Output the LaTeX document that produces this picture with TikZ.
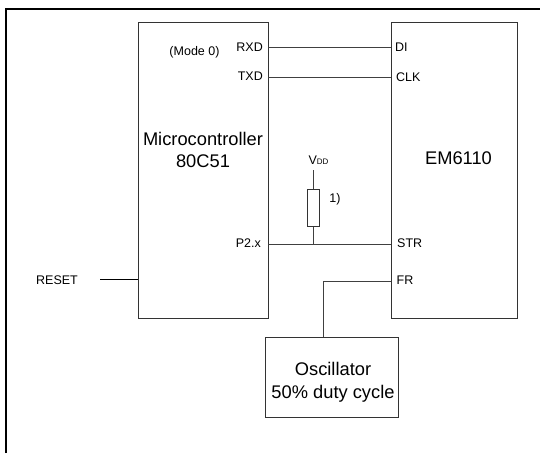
\documentclass[tikz,border=0pt]{standalone}
\usepackage{fontspec}
\setmainfont{Liberation Sans}
\begin{document}
\begin{tikzpicture}[x=1pt,y=-1pt,
  box/.style={draw=black!80,line width=0.8pt,inner sep=0pt,minimum width=#1},
  wire/.style={draw=black!75,line width=0.8pt},
  pin/.style={font=\fontsize{12.5}{14}\selectfont,inner sep=0pt},
  big/.style={font=\fontsize{18.3}{22.5}\selectfont,align=center,inner sep=0pt}]
\useasboundingbox (0,0) rectangle (540,453);
\coordinate (fa) at (6,453);
\coordinate (fb) at (6,9);
\coordinate (fc) at (540,9);
\draw[black,line width=1.5pt] (fa) -- (fb) -- (fc);
% blocks
\node[box=130pt,minimum height=296pt,anchor=north west] (mcu) at (137.5,22) {};
\node[box=126pt,minimum height=296pt,anchor=north west] (em) at (390.5,22) {};
\node[box=133pt,minimum height=80pt,anchor=north west] (osc) at (265,337) {};
\node[box=11.5pt,minimum height=37pt,anchor=north west] (res) at (307.3,189) {};
% big labels
\node[big] (mcutxt) at (203,150) {Microcontroller\\80C51};
\node[big] (emtxt) at (458.5,158.5) {EM6110};
\node[big] (osctxt) at (333,382.5) {Oscillator\\50\% duty cycle};
% pin labels
\node[pin,anchor=east] (rxd) at (263,47.5) {RXD};
\node[pin,anchor=east] (txd) at (263,76.5) {TXD};
\node[pin,anchor=east] (p2) at (261,243.5) {P2.x};
\node[pin] (mode) at (194.5,52) {(Mode 0)};
\node[pin,anchor=west] (di) at (395,47.5) {DI};
\node[pin,anchor=west] (clk) at (396,77.5) {CLK};
\node[pin,anchor=west] (str) at (397,243.5) {STR};
\node[pin,anchor=west] (fr) at (396.5,280.5) {FR};
\node[pin,anchor=west] (reset) at (36,280.5) {RESET};
\node[pin] (vdd) at (318.5,160) {V\fontsize{8}{9}\selectfont DD};
\node[pin] (one) at (335,199) {1)};
% junction helpers
\coordinate (rxdE) at (mcu.east |- 0,47.5);
\coordinate (diW) at (em.west |- 0,47.5);
\coordinate (txdE) at (mcu.east |- 0,77.5);
\coordinate (clkW) at (em.west |- 0,77.5);
\coordinate (p2E) at (mcu.east |- 0,244);
\coordinate (strW) at (em.west |- 0,244);
\coordinate (frW) at (em.west |- 0,281);
\coordinate (vddEnd) at (res.north |- 0,170);
\coordinate (junc) at (res.south |- 0,244);
\coordinate (oscT) at (323.5,337);
\coordinate (rstL) at (100,279.5);
\coordinate (rstR) at (mcu.west |- 0,279.5);
% connectors
\draw[wire] (rxdE) -- (diW);
\draw[wire] (txdE) -- (clkW);
\draw[wire] (p2E) -- (strW);
\draw[wire] (vddEnd) -- (res.north);
\draw[wire] (res.south) -- (junc);
\draw[wire] (frW) -- (323.5,281) -- (oscT);
\draw[black,line width=0.8pt] (rstL) -- (rstR);
\end{tikzpicture}
\end{document}
